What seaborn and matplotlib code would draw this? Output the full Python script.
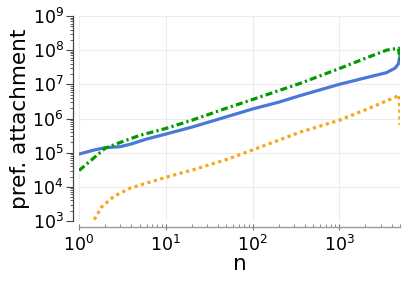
import matplotlib
matplotlib.use("Agg")
import matplotlib.pyplot as plt
import matplotlib.ticker as mticker
import numpy as np
import pandas as pd
import seaborn as sns

# Data
n_blue = [1, 1.5, 2, 3, 4, 6, 10, 20, 50, 100, 200, 355, 1000, 2000, 3500, 4400, 4800, 5000]
v_blue = [9.1e4, 1.2e5, 1.4e5, 1.5e5, 1.8e5, 2.5e5, 3.5e5, 5.6e5, 1.12e6, 1.9e6, 3.0e6, 4.7e6,
          1.0e7, 1.55e7, 2.2e7, 3.0e7, 4.0e7, 7.0e7]

n_green = [1, 1.5, 2, 3, 5, 10, 20, 50, 100, 355, 1000, 2000, 3500, 4400, 4800, 5000]
v_green = [3.0e4, 7.2e4, 1.35e5, 2.0e5, 3.2e5, 5.1e5, 8.9e5, 2.0e6, 3.6e6, 1.07e7, 2.9e7,
           5.8e7, 1.0e8, 1.1e8, 1.15e8, 5.0e7]

n_orange = [1.5, 1.83, 2.5, 3.9, 10, 21, 50, 100, 355, 1000, 2000, 4400, 4900, 5000]
v_orange = [1.1e3, 2.6e3, 5.2e3, 9.2e3, 1.9e4, 3.2e4, 6.3e4, 1.2e5, 4.0e5, 8.9e5, 1.8e6,
            4.2e6, 4.9e6, 6.5e5]

x_label = "n"
y_label = "pref. attachment"

sns.set_style("white")
plt.rcParams['font.family'] = ['DejaVu Sans']
plt.rcParams['text.color'] = 'black'
plt.rcParams['axes.labelcolor'] = 'black'
plt.rcParams['xtick.labelcolor'] = 'black'
plt.rcParams['ytick.labelcolor'] = 'black'

W, H = 407, 285
fig = plt.figure(figsize=(W / 100, H / 100), dpi=100)
ax = fig.add_axes([79 / W, 1 - 221 / H, (400 - 79) / W, (221 - 16) / H])

df_b = pd.DataFrame({"n": n_blue, "v": v_blue})
df_g = pd.DataFrame({"n": n_green, "v": v_green})
df_o = pd.DataFrame({"n": n_orange, "v": v_orange})

sns.lineplot(data=df_b, x="n", y="v", ax=ax, color="#4a78d6", lw=2.3, estimator=None, sort=False)
sns.lineplot(data=df_g, x="n", y="v", ax=ax, color="#009a00", lw=2.3, estimator=None, sort=False,
             dashes=False, linestyle=(0, (2.2, 1.0, 0.7, 1.0)))
sns.lineplot(data=df_o, x="n", y="v", ax=ax, color="#f9a51a", lw=2.3, estimator=None, sort=False,
             linestyle=(0, (1.0, 1.1)))

ax.set_xscale("log")
ax.set_yscale("log")
ax.set_xlim(1, 5000)
ax.set_ylim(1e3, 1e9)

ax.yaxis.set_major_locator(mticker.LogLocator(base=10, numticks=20))
ax.yaxis.set_minor_locator(mticker.LogLocator(base=10, subs=np.arange(2, 10), numticks=20))
ax.xaxis.set_major_locator(mticker.LogLocator(base=10, numticks=20))
ax.xaxis.set_minor_locator(mticker.LogLocator(base=10, subs=np.arange(2, 10), numticks=20))
ax.yaxis.set_minor_formatter(mticker.NullFormatter())
ax.xaxis.set_minor_formatter(mticker.NullFormatter())

ax.grid(True, which="major", color="#ececec", lw=0.8)
ax.set_axisbelow(True)

for s in ["top", "right"]:
    ax.spines[s].set_visible(False)
ax.spines["left"].set_position(("outward", 4))
ax.spines["bottom"].set_position(("outward", 4.5))
ax.spines["left"].set_color("#444444")
ax.spines["bottom"].set_color("#999999")
ax.spines["left"].set_linewidth(0.9)
ax.spines["bottom"].set_linewidth(1.0)

ax.tick_params(axis="y", which="major", direction="out", length=5, width=0.8, color="#444444",
               labelsize=12.5, pad=2, left=True, labelcolor="black")
ax.tick_params(axis="y", which="minor", direction="out", length=2.5, width=0.6, color="#444444", left=True)
ax.tick_params(axis="x", which="major", direction="inout", length=5, width=0.8, color="#777777",
               labelsize=12.5, pad=3, bottom=True, labelcolor="black")
ax.tick_params(axis="x", which="minor", direction="in", length=2.5, width=0.6, color="#777777", bottom=True)

ax.set_xlabel(x_label, fontsize=15.5, labelpad=-1, color="black")
ax.set_ylabel(y_label, fontsize=15.5, labelpad=2, color="black")

fig.savefig("out.png", dpi=100)
